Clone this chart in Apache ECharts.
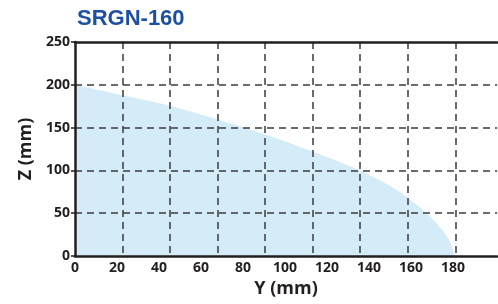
<!DOCTYPE html>
<html>
<head>
<meta charset="utf-8">
<script src="https://cdn.jsdelivr.net/npm/echarts@6/dist/echarts.min.js"></script>
<style>
  html, body { margin: 0; padding: 0; background: #fff; }
  #main { width: 498px; height: 304px; }
</style>
</head>
<body>
<div id="main"></div>
<script>
// curve of the working range (Y in mm -> Z in mm)
let yValues = [0, 22, 45, 67, 90, 113, 135, 150, 158, 166, 173, 178, 181];
let zValues = [200, 188, 175.5, 160, 142.5, 122, 100.5, 82, 68.5, 53, 36, 19, 0];
let xTicks = [0, 20, 40, 60, 80, 100, 120, 140, 160, 180];
let zTicks = [0, 50, 100, 150, 200, 250];

let dark = "#231f20";
let gridColor = "#3d3b3c";
let mycharts = echarts.init(document.getElementById("main"));
let points = yValues.map(function(v, i) {
  return [v, zValues[i]];
});

let option = {
  animation: false,
  title: {
    text: "SRGN-160",
    left: 72,
    top: 3,
    textStyle: {
      color: "#1d50a2",
      fontSize: 22,
      fontWeight: "bold",
      fontFamily: "Liberation Sans"
    }
  },
  grid: {
    left: 75,
    right: 0,
    top: 42,
    bottom: 48
  },
  xAxis: [
    {
      type: "value",
      min: 0,
      max: 201,
      interval: 20,
      z: 10,
      name: "Y (mm)",
      nameLocation: "middle",
      nameGap: 22,
      nameTextStyle: {
        color: dark,
        fontSize: 18,
        fontWeight: "bold",
        fontFamily: "Open Sans"
      },
      axisLine: { lineStyle: { color: dark, width: 2.5 } },
      axisTick: { show: false },
      splitLine: { show: false },
      axisLabel: {
        color: dark,
        fontSize: 14,
        fontWeight: "bold",
        fontFamily: "Open Sans",
        margin: 5,
        showMaxLabel: false,
        formatter: function(v) {
          return xTicks.indexOf(v) >= 0 ? String(v) : "";
        }
      }
    },
    {
      // only for the vertical grid + top border (grid spacing differs from labels)
      type: "value",
      position: "top",
      min: 0,
      max: 8.88,
      interval: 1,
      z: 10,
      axisLine: { lineStyle: { color: dark, width: 2.5 } },
      axisTick: { show: false },
      axisLabel: { show: false },
      splitLine: {
        show: true,
        showMinLine: false,
        showMaxLine: false,
        lineStyle: { color: gridColor, width: 1.5, type: [7, 5] }
      }
    }
  ],
  yAxis: {
    type: "value",
    min: 0,
    max: 250,
    interval: 50,
    z: 10,
    name: "Z (mm)",
    nameLocation: "middle",
    nameRotate: 90,
    nameGap: 38,
    nameTextStyle: {
      color: dark,
      fontSize: 18,
      fontWeight: "bold",
      fontFamily: "Open Sans"
    },
    axisLine: { show: true, lineStyle: { color: dark, width: 2.5 } },
    axisTick: { show: true, length: 4, lineStyle: { color: dark, width: 1.5 } },
    axisLabel: {
      color: dark,
      fontSize: 14,
      fontWeight: "bold",
      fontFamily: "Open Sans",
      margin: 5,
      formatter: function(v) {
        return zTicks.indexOf(v) >= 0 ? String(v) : "";
      }
    },
    splitLine: {
      show: true,
      showMinLine: false,
      showMaxLine: false,
      lineStyle: { color: gridColor, width: 1.5, type: [7, 5] }
    }
  },
  series: [
    {
      type: "line",
      xAxisIndex: 0,
      z: 0,
      data: points,
      smooth: 0.4,
      symbol: "none",
      lineStyle: { width: 0, color: "#d4ebf8" },
      areaStyle: { color: "#d4ebf8", opacity: 1 }
    }
  ]
};
mycharts.setOption(option);
</script>
</body>
</html>
